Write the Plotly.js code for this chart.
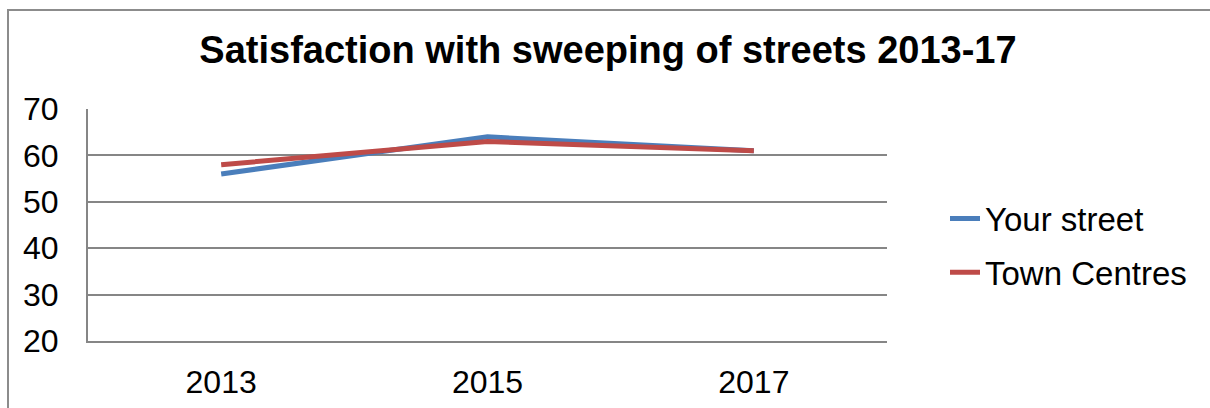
<!DOCTYPE html>
<html>
<head>
<meta charset="utf-8">
<script src="https://cdn.plot.ly/plotly-3.0.1.min.js"></script>
<style>
html,body{margin:0;padding:0;background:#fff;}
#wrap{position:relative;width:1210px;height:408px;overflow:hidden;}
#chart{width:1210px;height:408px;}
#frame{position:absolute;left:7px;top:9px;width:1300px;height:500px;border-top:2px solid #8c8c8c;border-left:2px solid #8c8c8c;pointer-events:none;}
</style>
</head>
<body>
<div id="wrap"><div id="chart"></div><div id="frame"></div></div>
<script>
const years = ['2013', '2015', '2017'];
const yourStreet = [56, 64, 61];
const townCentres = [58, 63, 61];
const seriesNames = ['Your street', 'Town Centres'];
const yTicks = [20, 30, 40, 50, 60, 70];

const traces = [
  {x: years, y: yourStreet, name: seriesNames[0], type: 'scatter', mode: 'lines', legendgroup: 'a',
   line: {color: '#4a7ebb', width: 5}},
  {x: years, y: townCentres, name: seriesNames[1], type: 'scatter', mode: 'lines', legendgroup: 'b',
   line: {color: '#be4b48', width: 5}}
];

const layout = {
  width: 1210, height: 408,
  paper_bgcolor: '#ffffff', plot_bgcolor: '#ffffff',
  margin: {l: 88, r: 323, t: 109, b: 67, pad: 0},
  font: {family: '"Liberation Sans", Arial, sans-serif', color: '#000000', size: 32},
  title: {text: '<b>Satisfaction with sweeping of streets 2013-17</b>',
          font: {size: 38, family: '"Liberation Sans", Arial, sans-serif', color: '#000'},
          x: 608/1210, xref: 'container', xanchor: 'center',
          yref: 'container', y: 1 - 50/408, yanchor: 'middle'},
  xaxis: {type: 'category', range: [-0.5, 2.5], showgrid: false, zeroline: false,
          showline: true, linecolor: '#868686', linewidth: 2,
          ticks: '', ticklabelstandoff: 12, tickfont: {size: 32}},
  yaxis: {range: [20, 70], tickvals: yTicks, showgrid: true, gridcolor: '#868686', gridwidth: 2,
          zeroline: false, showline: true, linecolor: '#868686', linewidth: 2,
          ticks: '', ticklabelstandoff: 21, tickfont: {size: 32}},
  showlegend: true,
  legend: {x: (945-88)/799, xanchor: 'left', y: (341-245.5)/232, yanchor: 'middle', yref: 'paper',
           font: {size: 33}, traceorder: 'grouped', tracegroupgap: 8, itemwidth: 30,
           bgcolor: 'rgba(0,0,0,0)'}
};

Plotly.newPlot('chart', traces, layout, {displayModeBar: false, staticPlot: true});
</script>
</body>
</html>
